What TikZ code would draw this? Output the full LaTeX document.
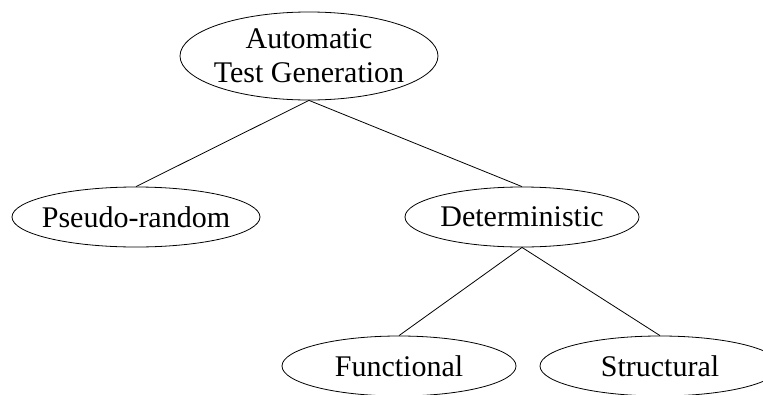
\documentclass[tikz,border=0pt]{standalone}
\usepackage{fontspec}
\setmainfont{Liberation Serif}
\usepackage{tikz}
\usetikzlibrary{shapes.geometric,positioning}

\begin{document}
\begin{tikzpicture}[x=1pt, y=-1pt, node distance=150pt, on grid]
\tikzstyle{block} = [draw, ellipse, line width=0.8pt, inner xsep=-8pt, inner ysep=0pt, minimum height=60pt, font=\fontsize{30pt}{34pt}\selectfont]
\tikzstyle{branch} = [line width=0.8pt]

\useasboundingbox (0,0) rectangle (763,394);

    % We start by placing the blocks
    \node [block, minimum width=258pt, minimum height=88pt, align=center] (atg) at (309,56) {Automatic\\Test Generation};
    \node [block, minimum width=248pt, below left=161pt and 173pt of atg] (pseudo) {Pseudo-random};
    \node [block, minimum width=234pt, below right=161pt and 213pt of atg] (determ) {Deterministic};
    \node [block, minimum width=234pt, below left=149pt and 123pt of determ] (functional) {Functional};
    \node [block, minimum width=240pt, below right=149pt and 138pt of determ] (structural) {Structural};

    % then join them from bottom to top
    \draw [branch] (atg.south) -- (pseudo.north);
    \draw [branch] (atg.south) -- (determ.north);
    \draw [branch] (determ.south) -- (functional.north);
    \draw [branch] (determ.south) -- (structural.north);

\end{tikzpicture}
\end{document}
